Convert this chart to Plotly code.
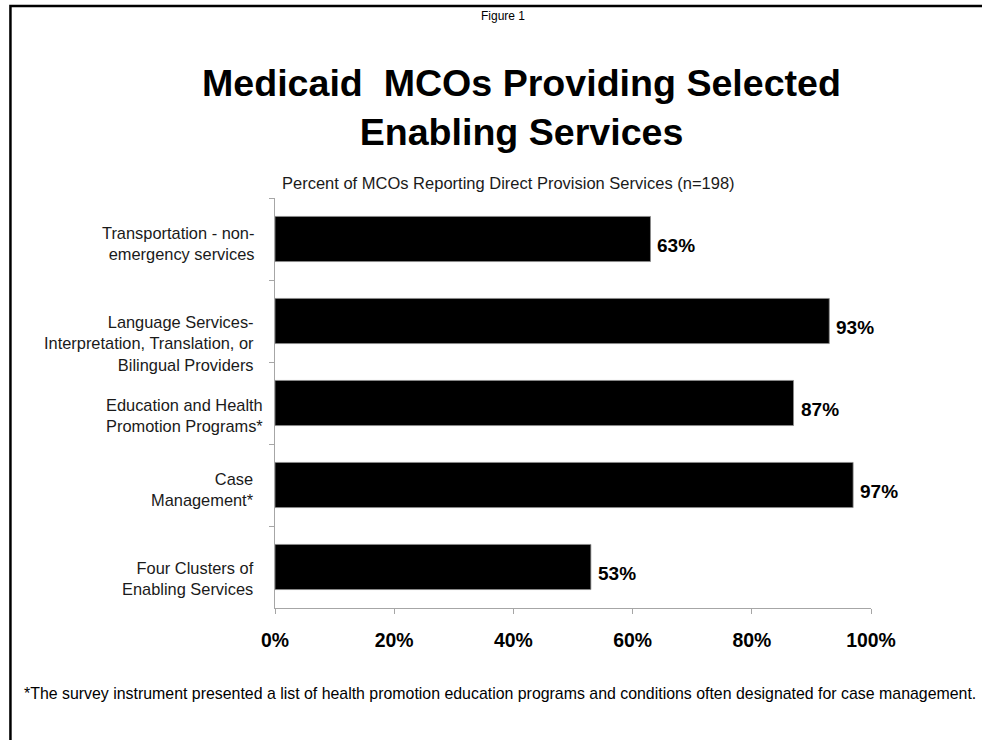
import plotly.graph_objects as go

# Data
categories = [
    "Transportation - non-<br>emergency services",
    "Language Services-<br>Interpretation, Translation, or<br>Bilingual Providers",
    "Education and Health<br>Promotion Programs*",
    "Case<br>Management*",
    "Four Clusters of<br>Enabling Services",
]
values = [63, 93, 87, 97, 53]
x_ticks = [0, 20, 40, 60, 80, 100]
x_tick_labels = ["0%", "20%", "40%", "60%", "80%", "100%"]

# Layout geometry (pixels)
W, H = 982, 740
L, R, T, B = 274.5, 871.5, 198, 608
FONT = "Arial, Liberation Sans, Helvetica, sans-serif"


def px_x(p):
    return (p - L) / (R - L)


def px_y(p):
    return (B - p) / (B - T)


fig = go.Figure()
fig.add_trace(go.Bar(
    x=values,
    y=categories,
    orientation="h",
    width=0.55,
    marker=dict(color="black", line=dict(color="#8c8c8c", width=0.8)),
    hoverinfo="skip",
))

annotations = []

# Category labels, right-aligned to the left of the axis
label_shift = [-4, -22, -12, -4, -11]
label_right = [255, 255, 264, 255, 255]
for cat, dy, xr in zip(categories, label_shift, label_right):
    annotations.append(dict(
        x=px_x(xr), xref="paper", y=cat, yref="y",
        text=cat, showarrow=False, xanchor="right", yanchor="middle",
        align="right", yshift=dy,
        font=dict(family=FONT, size=16.4, color="#1a1a1a"),
    ))

# Value labels at bar ends
for cat, v in zip(categories, values):
    annotations.append(dict(
        x=v, xref="x", y=cat, yref="y",
        text=f"{v}%", showarrow=False, xanchor="left", yanchor="middle",
        xshift=5, yshift=-6,
        font=dict(family=FONT, size=19, color="black", weight="bold"),
    ))

# Headings and footnote
annotations += [
    dict(x=px_x(503), y=px_y(16), xref="paper", yref="paper",
         text="Figure 1", showarrow=False, xanchor="center", yanchor="middle",
         font=dict(family=FONT, size=12, color="black")),
    dict(x=px_x(521), y=px_y(107), xref="paper", yref="paper",
         text="Medicaid  MCOs Providing Selected<br>Enabling Services",
         showarrow=False, xanchor="center", yanchor="middle", align="center",
         font=dict(family=FONT, size=37.6, color="black", weight="bold")),
    dict(x=px_x(508.5), y=px_y(183), xref="paper", yref="paper",
         text="Percent of MCOs Reporting Direct Provision Services (n=198)",
         showarrow=False, xanchor="center", yanchor="middle",
         font=dict(family=FONT, size=16.5, color="#1a1a1a")),
    dict(x=px_x(21), y=px_y(693), xref="paper", yref="paper",
         text="*The survey instrument presented a list of health promotion education "
              "programs and conditions often designated for case management.",
         showarrow=False, xanchor="left", yanchor="middle",
         font=dict(family=FONT, size=15.9, color="black")),
]

# Frame along the left and top edges
shapes = [dict(
    type="path", xref="paper", yref="paper",
    path=f"M {px_x(9.5)},{px_y(760)} L {px_x(9.5)},{px_y(6)} L {px_x(1000)},{px_y(6)}",
    line=dict(color="black", width=2.5),
)]

fig.update_layout(
    template="none",
    width=W, height=H,
    margin=dict(l=L, r=W - R, t=T, b=H - B, pad=0),
    paper_bgcolor="white", plot_bgcolor="white",
    showlegend=False,
    bargap=0.45,
    annotations=annotations,
    shapes=shapes,
    xaxis=dict(
        range=[0, 100], tickvals=x_ticks, ticktext=x_tick_labels,
        showgrid=False, zeroline=False, automargin=False,
        showline=True, linecolor="#a6a6a6", linewidth=1.3,
        ticks="outside", ticklen=5, tickcolor="#a6a6a6", tickwidth=1.3,
        ticklabelstandoff=10,
        tickfont=dict(family=FONT, size=19.4, color="black", weight="bold"),
    ),
    yaxis=dict(
        categoryorder="array", categoryarray=categories, autorange="reversed",
        showticklabels=False, showgrid=False, zeroline=False, automargin=False,
        showline=True, linecolor="#a6a6a6", linewidth=1.3,
        ticks="outside", ticklen=5, tickcolor="#a6a6a6", tickwidth=1.3,
        tickson="boundaries",
    ),
)

fig.write_html("out.html")
